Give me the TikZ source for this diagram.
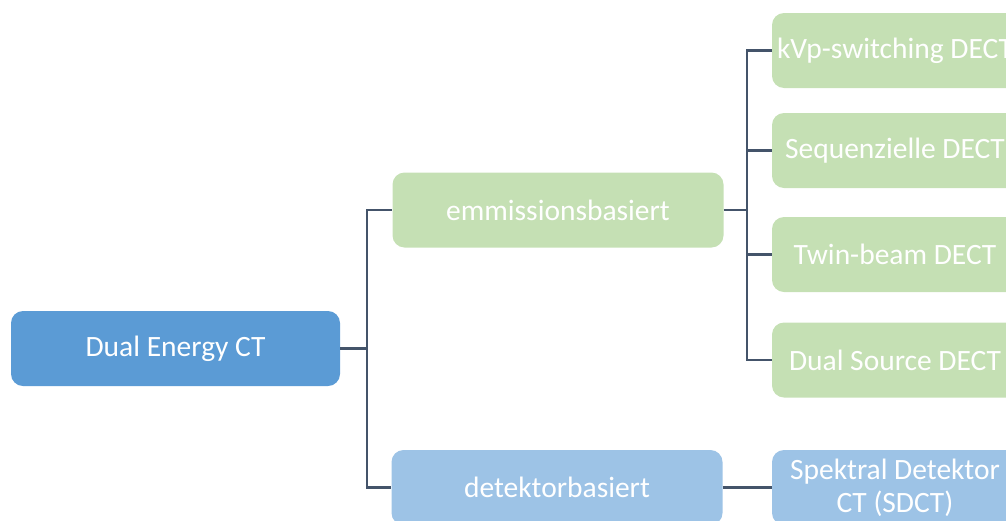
\documentclass[tikz,border=0pt]{standalone}
\usepackage{fontspec}
\setmainfont{Carlito}
\definecolor{rootBlue}{RGB}{91, 155, 213}
\definecolor{lightBlue}{RGB}{157, 195, 230}
\definecolor{lightGreen}{RGB}{197, 224, 180}
\definecolor{lineGray}{RGB}{68, 84, 106}
\tikzset{
  box/.style={rounded corners=12pt, text=white, align=center,
    minimum height=75pt, inner sep=0pt, font=\fontsize{29.5}{33}\selectfont},
  rootbox/.style={box, fill=rootBlue, minimum width=329pt},
  midbox/.style={box, minimum width=331pt},
  leafbox/.style={box, minimum width=246pt},
  conn/.style={draw=lineGray, line width=2.5pt}
}
\begin{document}
\begin{tikzpicture}[x=1pt, y=-1pt]
        \useasboundingbox (0,0) rectangle (1006,520);
        \clip (0,0) rectangle (1006,520);
        \node[rootbox] (dect) at (175.5,348.5) {Dual Energy CT};
        \node[midbox, fill=lightGreen] (emis) at (558,210) {emmissionsbasiert};
        \node[midbox, fill=lightBlue] (detk) at (557,487.5) {detektorbasiert};
        \node[leafbox, fill=lightGreen] (kvp) at (895,50.5) {kVp-switching DECT};
        \node[leafbox, fill=lightGreen] (seq) at (895,150.5) {Sequenzielle DECT};
        \node[leafbox, fill=lightGreen] (twin) at (895,254.5) {Twin-beam DECT};
        \node[leafbox, fill=lightGreen] (dsrc) at (895,360) {Dual Source DECT};
        \node[leafbox, fill=lightBlue] (sdct) at (895,487.5) {Spektral Detektor\\CT (SDCT)};
        % Verbindungen
        \coordinate (j1) at (367,348.5);
        \coordinate (j2) at (747,210);
        \draw[conn] (dect.east) -- (j1);
        \draw[conn] (j1) |- (emis.west);
        \draw[conn] (j1) |- (detk.west);
        \draw[conn] (emis.east) -- (j2);
        \foreach \n in {kvp, seq, twin, dsrc}
          \draw[conn] (j2) |- (\n.west);
        \draw[conn] (detk.east) -- (sdct.west);
      \end{tikzpicture}
\end{document}
